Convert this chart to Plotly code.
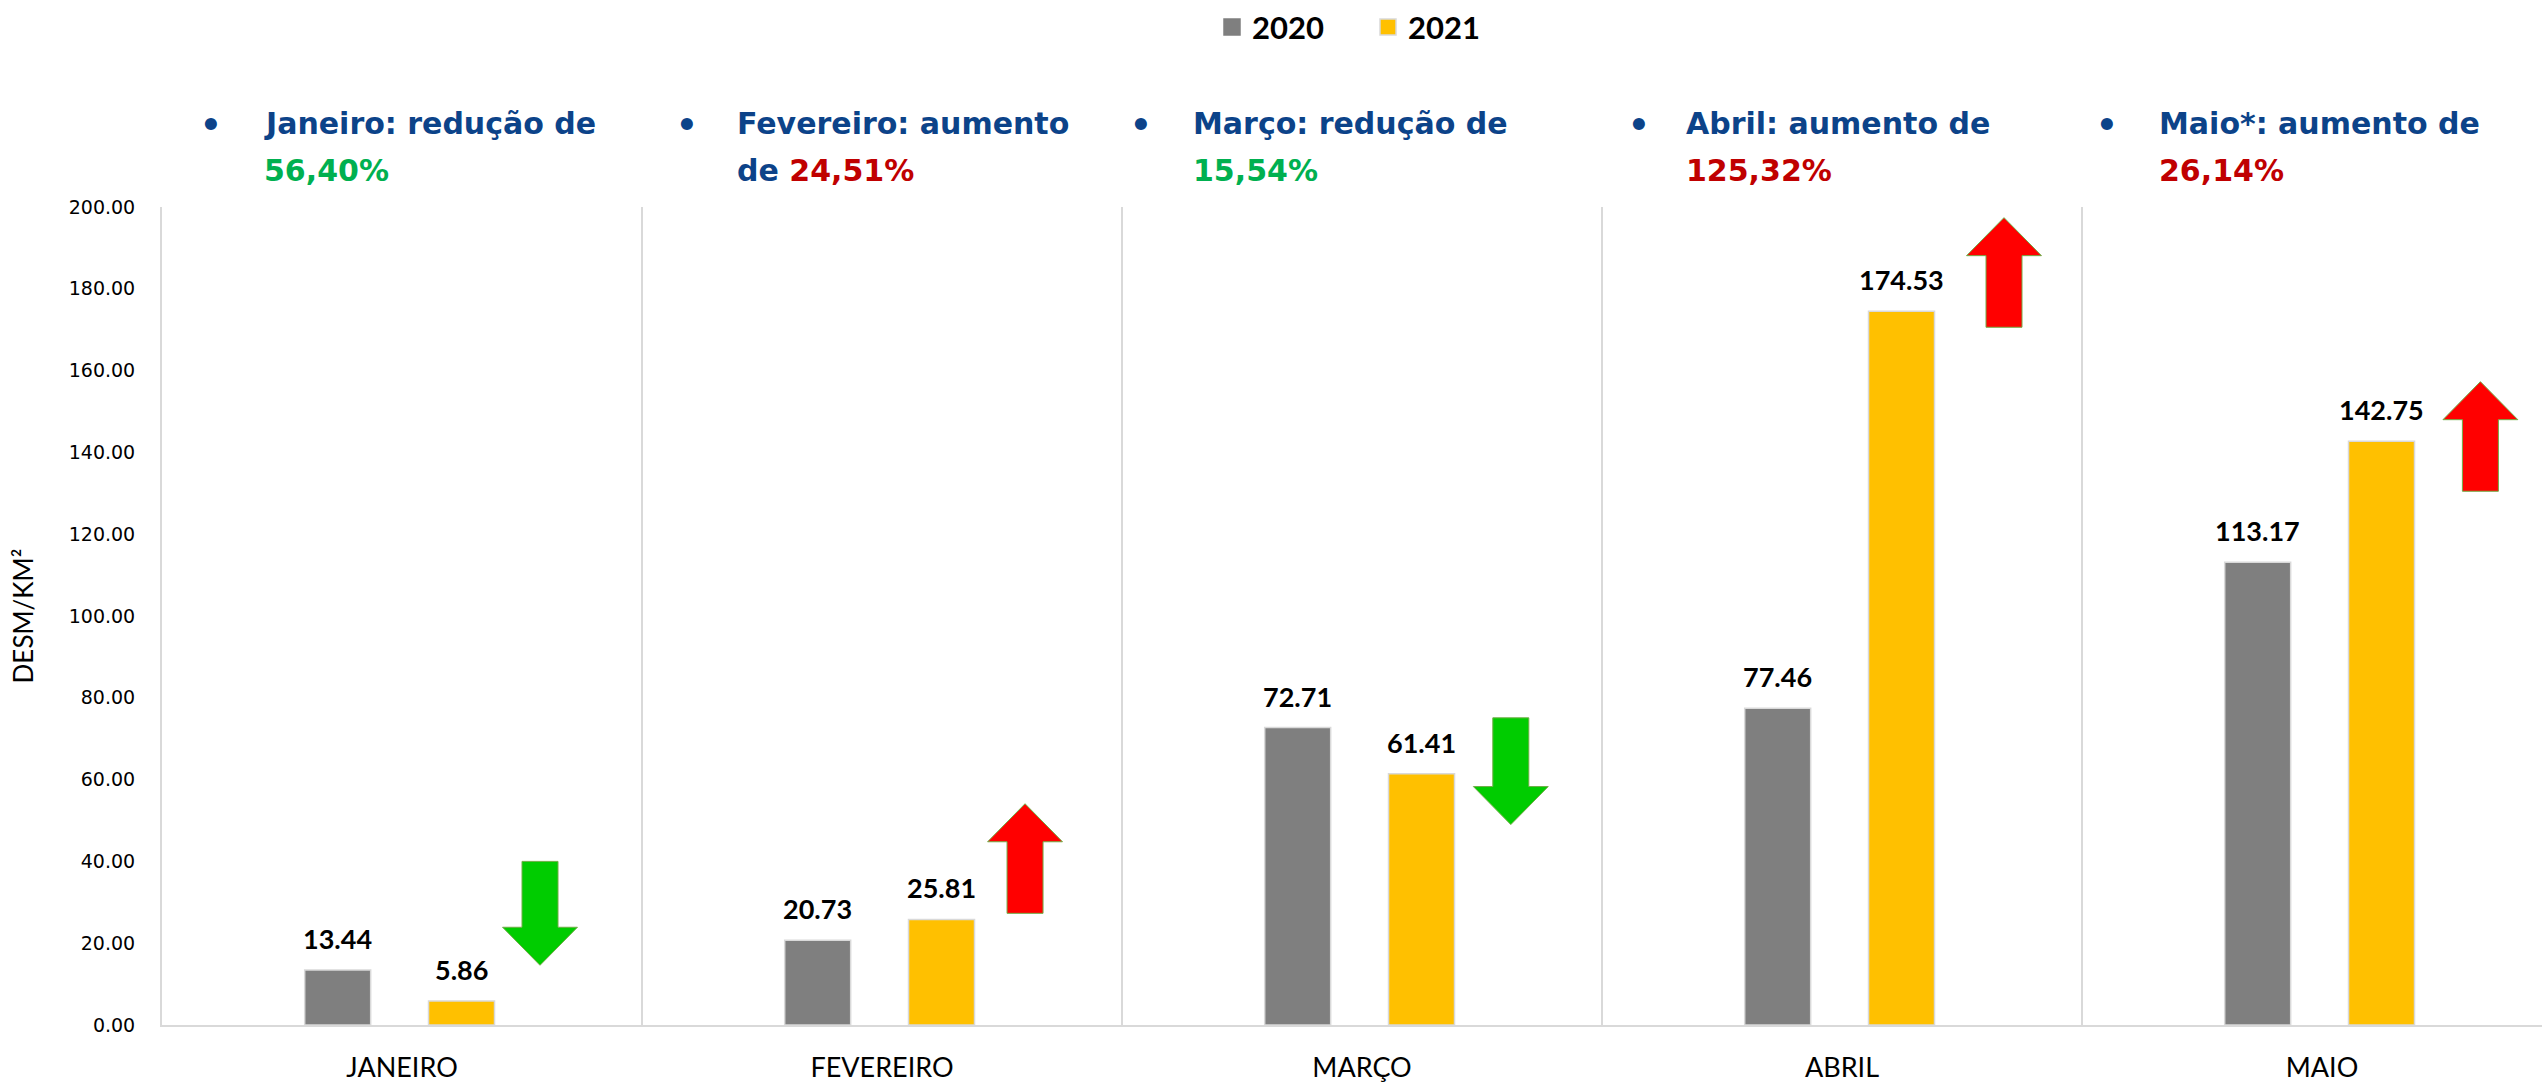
import plotly.graph_objects as go

# ---------------- data ----------------
months = ["JANEIRO", "FEVEREIRO", "MARÇO", "ABRIL", "MAIO"]
series_names = ["2020", "2021"]
values_2020 = [13.44, 20.73, 72.71, 77.46, 113.17]
values_2021 = [5.86, 25.81, 61.41, 174.53, 142.75]
y_tick_values = [0, 20, 40, 60, 80, 100, 120, 140, 160, 180, 200]
y_title = "DESM/KM²"
heading_lead = ["Janeiro: redução de", "Fevereiro: aumento", "Março: redução de",
                "Abril: aumento de", "Maio*: aumento de"]
heading_second_prefix = ["", "de ", "", "", ""]
heading_pct = ["56,40%", "24,51%", "15,54%", "125,32%", "26,14%"]

# ---------------- styles / layout ----------------
W, H = 2542, 1083
PLOT_L, PLOT_R, PLOT_T, PLOT_B = 162, 2542, 205, 1028
CAT_PX = 480
X_RANGE = [-0.5, -0.5 + (PLOT_R - PLOT_L) / CAT_PX]
Y_RANGE = [0, 200]

COL_2020 = "#7f7f7f"
COL_2021 = "#ffc000"
COL_EDGE = "#d9d9d9"
COL_BLUE = "#0c4389"
COL_GREEN = "#00b050"
COL_RED = "#c00000"
ARROW_UP = "#ff0000"
ARROW_DOWN = "#00cc00"
ARROW_EDGE = "#70ad47"

HEAD_FONT = "DejaVu Sans"
HEAD_SIZE = 30

BAR_W = 0.1375
BAR_CENTERS = [-0.134, 0.124]

# arrow decorations (x offset within category, tail value, tip value)
arrow_dx = [0.2875, 0.298, 0.31, 0.3375, 0.33]
arrow_tail = [40.0, 27.3, 75.1, 170.6, 130.5]
arrow_tip = [14.6, 54.1, 49.0, 197.4, 157.3]
ARROW_HEAD = 9.3
ARROW_HEAD_HW = 0.078
ARROW_SHAFT_HW = 0.0375

# heading placement in pixels
bullet_px = [211, 687, 1141, 1639, 2107]
text_px = [262, 735, 1191, 1684, 2157]
LINE1_CY = 121
LINE2_CY = 168


def px_x(px):
    return (px - PLOT_L) / (PLOT_R - PLOT_L)


def px_y(py):
    return (PLOT_B - py) / (PLOT_B - PLOT_T)


fig = go.Figure()
for name, vals, col, c in zip(series_names, [values_2020, values_2021],
                              [COL_2020, COL_2021], BAR_CENTERS):
    fig.add_trace(go.Bar(
        x=months, y=vals, name=name, width=BAR_W, offset=c - BAR_W / 2,
        marker=dict(color=col, line=dict(color=COL_EDGE, width=1.5)),
        showlegend=False, hoverinfo="x+y+name",
    ))
    # legend proxy
    fig.add_trace(go.Scatter(
        x=[months[0]], y=[None], mode="markers", name=name,
        marker=dict(symbol="square", size=20, color=col,
                    line=dict(color=COL_EDGE if name == "2021" else col, width=1.5)),
        showlegend=True,
    ))

annotations = []
# data labels
for vals, c in zip([values_2020, values_2021], BAR_CENTERS):
    for i, v in enumerate(vals):
        annotations.append(dict(
            x=i + c, y=v, xref="x", yref="y", text=f"{v:.2f}", showarrow=False,
            yanchor="bottom", xanchor="center", yshift=13,
            font=dict(family="Lato", size=27, color="#000000", weight="bold"),
        ))

# headings
for i in range(len(months)):
    increase = values_2021[i] > values_2020[i]
    pct_col = COL_RED if increase else COL_GREEN
    annotations.append(dict(
        x=px_x(bullet_px[i]), y=px_y(LINE1_CY + 2), xref="paper", yref="paper",
        text="•", showarrow=False, xanchor="center", yanchor="middle",
        font=dict(family=HEAD_FONT, size=HEAD_SIZE + 4, color=COL_BLUE, weight="bold"),
    ))
    annotations.append(dict(
        x=px_x(text_px[i]), y=px_y(LINE1_CY), xref="paper", yref="paper",
        text=heading_lead[i], showarrow=False, xanchor="left", yanchor="middle",
        font=dict(family=HEAD_FONT, size=HEAD_SIZE, color=COL_BLUE, weight="bold"),
    ))
    line2 = heading_second_prefix[i]
    line2 += f"<span style='color:{pct_col}'>{heading_pct[i]}</span>"
    annotations.append(dict(
        x=px_x(text_px[i]), y=px_y(LINE2_CY), xref="paper", yref="paper",
        text=line2, showarrow=False, xanchor="left", yanchor="middle",
        font=dict(family=HEAD_FONT, size=HEAD_SIZE, color=COL_BLUE, weight="bold"),
    ))

# arrows
shapes = []
for i in range(len(months)):
    cx = i + arrow_dx[i]
    tail, tip = arrow_tail[i], arrow_tip[i]
    up = tip > tail
    base = tip - ARROW_HEAD if up else tip + ARROW_HEAD
    pts = [(cx - ARROW_SHAFT_HW, tail), (cx - ARROW_SHAFT_HW, base), (cx - ARROW_HEAD_HW, base),
           (cx, tip), (cx + ARROW_HEAD_HW, base), (cx + ARROW_SHAFT_HW, base),
           (cx + ARROW_SHAFT_HW, tail)]
    path = "M " + " L ".join(f"{px},{py}" for px, py in pts) + " Z"
    shapes.append(dict(type="path", path=path, xref="x", yref="y",
                       fillcolor=ARROW_UP if up else ARROW_DOWN,
                       line=dict(color=ARROW_EDGE, width=1), layer="above"))

fig.update_layout(
    width=W, height=H, autosize=False,
    margin=dict(l=PLOT_L, r=W - PLOT_R, t=PLOT_T, b=H - PLOT_B, pad=0),
    paper_bgcolor="white", plot_bgcolor="white",
    barmode="overlay",
    font=dict(family="Lato", color="#000000"),
    legend=dict(orientation="h", x=px_x(1368), xanchor="center", y=px_y(-3), yanchor="top",
                font=dict(family="Lato", size=31, color="#000000", weight="bold"),
                bgcolor="rgba(0,0,0,0)", itemwidth=30, tracegroupgap=0,
                entrywidth=111, entrywidthmode="pixels"),
    annotations=annotations,
    shapes=shapes,
    xaxis=dict(
        type="category", range=X_RANGE, tickson="boundaries", showgrid=True,
        gridcolor=COL_EDGE, gridwidth=2, showline=True, linecolor=COL_EDGE, linewidth=2,
        ticks="", tickfont=dict(family="Lato", size=27, color="#000000"),
        ticklabelstandoff=18, zeroline=False, fixedrange=True,
    ),
    yaxis=dict(
        range=Y_RANGE, tickvals=y_tick_values, tickformat=".2f", showgrid=False,
        showline=True, linecolor=COL_EDGE, linewidth=2, zeroline=False, ticks="",
        tickfont=dict(family="DejaVu Sans", size=19, color="#000000"),
        ticklabelstandoff=21,
        title=dict(text=y_title, font=dict(family="Lato", size=26, color="#000000"), standoff=28),
        fixedrange=True,
    ),
)

fig.write_html("out.html", config={"displayModeBar": False},
               post_script="document.body.style.margin='0';document.body.style.overflow='hidden';")
